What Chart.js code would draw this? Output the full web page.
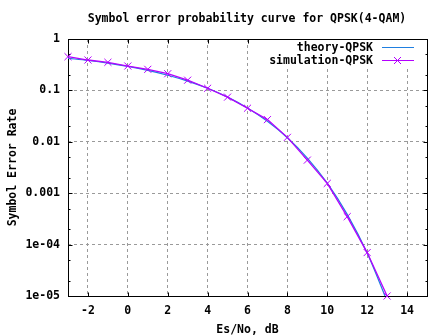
<!DOCTYPE html>
<html>
<head>
<meta charset="utf-8">
<script src="https://cdn.jsdelivr.net/npm/chart.js@4/dist/chart.umd.min.js"></script>
<style>
  html, body { margin: 0; padding: 0; background: #fff; }
  #wrap { width: 448px; height: 336px; }
</style>
</head>
<body>
<div id="wrap"><canvas id="serChart" width="448" height="336"></canvas></div>
<script>
// Es/No in dB, one point per dB
const esNo = [-3, -2, -1, 0, 1, 2, 3, 4, 5, 6, 7, 8, 9, 10, 11, 12, 13];
// theory curve
const theorySer = [0.4216, 0.3814, 0.3382, 0.2922, 0.2447, 0.1972, 0.1516, 0.1098, 0.0740,
  0.0455, 0.0250, 0.0120, 0.00483, 0.00157, 0.000388, 0.0000686, 0.0000079];
// simulated points (x markers)
const simSer = [0.453, 0.390, 0.352, 0.298, 0.257, 0.211, 0.158, 0.110, 0.074,
  0.045, 0.0270, 0.0122, 0.0044, 0.00155, 0.00035, 0.000070, 0.0000100];

const xTicks = [-2, 0, 2, 4, 6, 8, 10, 12, 14];
const yTicks = [1, 0.1, 0.01, 0.001, 0.0001, 0.00001];
const yTickLabels = ['1', '0.1', '0.01', '0.001', '1e-04', '1e-05'];
const seriesNames = ['theory-QPSK', 'simulation-QPSK'];

const FONT = 'bold 11.5px "DejaVu Sans Mono", "Liberation Mono", monospace';
const seriesColors = ['#1f7fe0', '#b400ff'];

// frame with inward ticks on all four sides, like gnuplot
const framePlugin = {
  id: 'frame',
  beforeDatasetsDraw(chart) {
    const { ctx, chartArea: a, scales } = chart;
    const L = Math.round(a.left) + 0.5, R = Math.round(a.right) + 0.5;
    const T = Math.round(a.top) + 0.5, B = Math.round(a.bottom) + 0.5;
    ctx.save();
    ctx.strokeStyle = '#000';
    ctx.lineWidth = 1;
    ctx.beginPath();
    xTicks.forEach(v => {
      const px = Math.round(scales.x.getPixelForValue(v)) + 0.5;
      ctx.moveTo(px, B); ctx.lineTo(px, B - 4);
      ctx.moveTo(px, T); ctx.lineTo(px, T + 4);
    });
    yTicks.forEach(v => {
      const py = Math.round(scales.y.getPixelForValue(v)) + 0.5;
      ctx.moveTo(L, py); ctx.lineTo(L + 4, py);
      ctx.moveTo(R, py); ctx.lineTo(R - 4, py);
    });
    yTicks.slice(1).forEach(v => {
      [2, 5].forEach(m => {
        const py = Math.round(scales.y.getPixelForValue(v * m)) + 0.5;
        ctx.moveTo(L, py); ctx.lineTo(L + 2, py);
        ctx.moveTo(R, py); ctx.lineTo(R - 2, py);
      });
    });
    ctx.stroke();
    ctx.strokeRect(L, T, R - L, B - T);
    ctx.restore();
  }
};

// key in the top right corner, text right aligned, sample on the right
const keyPlugin = {
  id: 'key',
  afterDatasetsDraw(chart) {
    const { ctx } = chart;
    ctx.save();
    ctx.fillStyle = '#fff';
    ctx.fillRect(256, 40, 168, 28);
    ctx.font = FONT;
    ctx.textAlign = 'right';
    ctx.textBaseline = 'middle';
    const rows = [48, 61];
    seriesNames.forEach((name, i) => {
      const y = rows[i];
      ctx.fillStyle = '#000';
      ctx.fillText(name, 373, y);
      ctx.strokeStyle = seriesColors[i];
      ctx.lineWidth = 1;
      ctx.beginPath();
      ctx.moveTo(382, y - 0.5); ctx.lineTo(414, y - 0.5);
      ctx.stroke();
      if (i === 1) {
        ctx.beginPath();
        ctx.moveTo(394, y - 4); ctx.lineTo(401, y + 3);
        ctx.moveTo(401, y - 4); ctx.lineTo(394, y + 3);
        ctx.stroke();
      }
    });
    ctx.restore();
  }
};

// title at top
const titlePlugin = {
  id: 'topTitle',
  afterDraw(chart) {
    const { ctx } = chart;
    ctx.save();
    ctx.font = FONT;
    ctx.fillStyle = '#000';
    ctx.textAlign = 'center';
    ctx.textBaseline = 'middle';
    ctx.fillText('Symbol error probability curve for QPSK(4-QAM)', 247, 19);
    ctx.restore();
  }
};

const tickFont = { family: '"DejaVu Sans Mono", monospace', size: 11.5, weight: 'bold' };

new Chart(document.getElementById('serChart'), {
  type: 'line',
  data: {
    labels: esNo,
    datasets: [
      {
        label: seriesNames[0],
        data: esNo.map((x, i) => ({ x: x, y: theorySer[i] })),
        borderColor: seriesColors[0],
        backgroundColor: seriesColors[0],
        borderWidth: 1.2,
        pointRadius: 0,
        cubicInterpolationMode: 'monotone',
        fill: false,
        order: 1
      },
      {
        label: seriesNames[1],
        data: esNo.map((x, i) => ({ x: x, y: simSer[i] })),
        borderColor: seriesColors[1],
        backgroundColor: seriesColors[1],
        borderWidth: 1.3,
        pointStyle: 'crossRot',
        pointRadius: 5,
        pointBorderWidth: 1,
        fill: false,
        clip: false,
        order: 0
      }
    ]
  },
  options: {
    responsive: false,
    animation: false,
    events: [],
    layout: { padding: { left: 0, top: 39, right: 21, bottom: -1 } },
    plugins: {
      legend: { display: false },
      tooltip: { enabled: false },
      title: { display: false }
    },
    scales: {
      x: {
        type: 'linear',
        min: -3,
        max: 15,
        afterFit(scale) { scale.height = 41; },
        afterBuildTicks(scale) { scale.ticks = xTicks.map(v => ({ value: v })); },
        grid: {
          drawTicks: false,
          color: '#9a9a9a',
          lineWidth: 1
        },
        border: { display: false, dash: [3, 3] },
        ticks: {
          color: '#000',
          font: tickFont,
          padding: 8,
          maxRotation: 0,
          autoSkip: false
        },
        title: {
          display: true,
          text: 'Es/No, dB',
          color: '#000',
          font: tickFont,
          padding: { top: 0, bottom: 0 }
        }
      },
      y: {
        type: 'logarithmic',
        min: 0.00001,
        max: 1,
        afterFit(scale) { scale.width = 68; },
        afterBuildTicks(scale) { scale.ticks = yTicks.map(v => ({ value: v })); },
        grid: {
          drawTicks: false,
          color: '#9a9a9a',
          lineWidth: 1
        },
        border: { display: false, dash: [3, 3] },
        ticks: {
          color: '#000',
          font: tickFont,
          padding: 8,
          autoSkip: false,
          callback: (v) => {
            const i = yTicks.findIndex(t => Math.abs(Math.log10(t) - Math.log10(v)) < 1e-6);
            return i >= 0 ? yTickLabels[i] : '';
          }
        },
        title: {
          display: true,
          text: 'Symbol Error Rate',
          color: '#000',
          font: tickFont,
          padding: { top: 6, bottom: 0 }
        }
      }
    }
  },
  plugins: [framePlugin, keyPlugin, titlePlugin]
});
</script>
</body>
</html>
